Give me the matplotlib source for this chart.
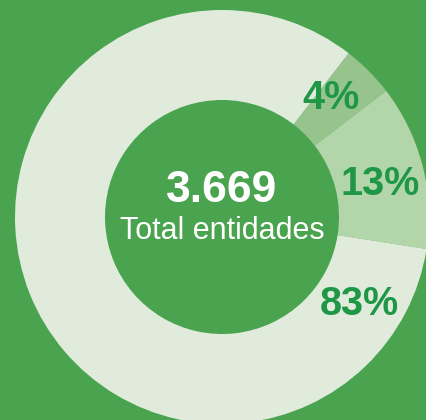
import matplotlib.pyplot as plt
import numpy as np

# data
labels = ["4%", "13%", "83%"]
shares = [4.1, 12.9, 83.0]
total_text = "3.669"
total_label = "Total entidades"

colors = ["#97c48d", "#b3d5aa", "#e0ebdc"]
bg = "#4aa34f"
label_color = "#1f9746"

fig = plt.figure(figsize=(4.26, 4.20), dpi=100, facecolor=bg)
ax = fig.add_axes([0, 0, 1, 1])
ax.set_facecolor(bg)

cx, cy = 222, 203
r_out, r_in = 207, 117

ax.pie(shares, colors=colors, startangle=52.3, counterclock=False,
       radius=r_out, center=(cx, cy), frame=True,
       wedgeprops=dict(width=r_out - r_in, linewidth=0))
ax.set_xlim(0, 426)
ax.set_ylim(0, 420)
ax.set_aspect("equal")
ax.axis("off")

# label placement on ring midline
label_angles = [47.8, 12.0, -32.0]
r_lab = 162
for txt, a in zip(labels, label_angles):
    t = np.deg2rad(a)
    ax.text(cx + r_lab * np.cos(t), cy + r_lab * np.sin(t) - 1, txt,
            ha="center", va="center", color=label_color, fontsize=28.5,
            fontweight="bold", family="Liberation Sans")

ax.text(cx, cy + 27, total_text, ha="center", va="center", color="white",
        fontsize=32, fontweight="bold", family="Liberation Sans")
ax.text(cx, cy - 14, total_label, ha="center", va="center", color="white",
        fontsize=22, family="Liberation Sans")

fig.savefig("out.png", dpi=100, facecolor=bg)
